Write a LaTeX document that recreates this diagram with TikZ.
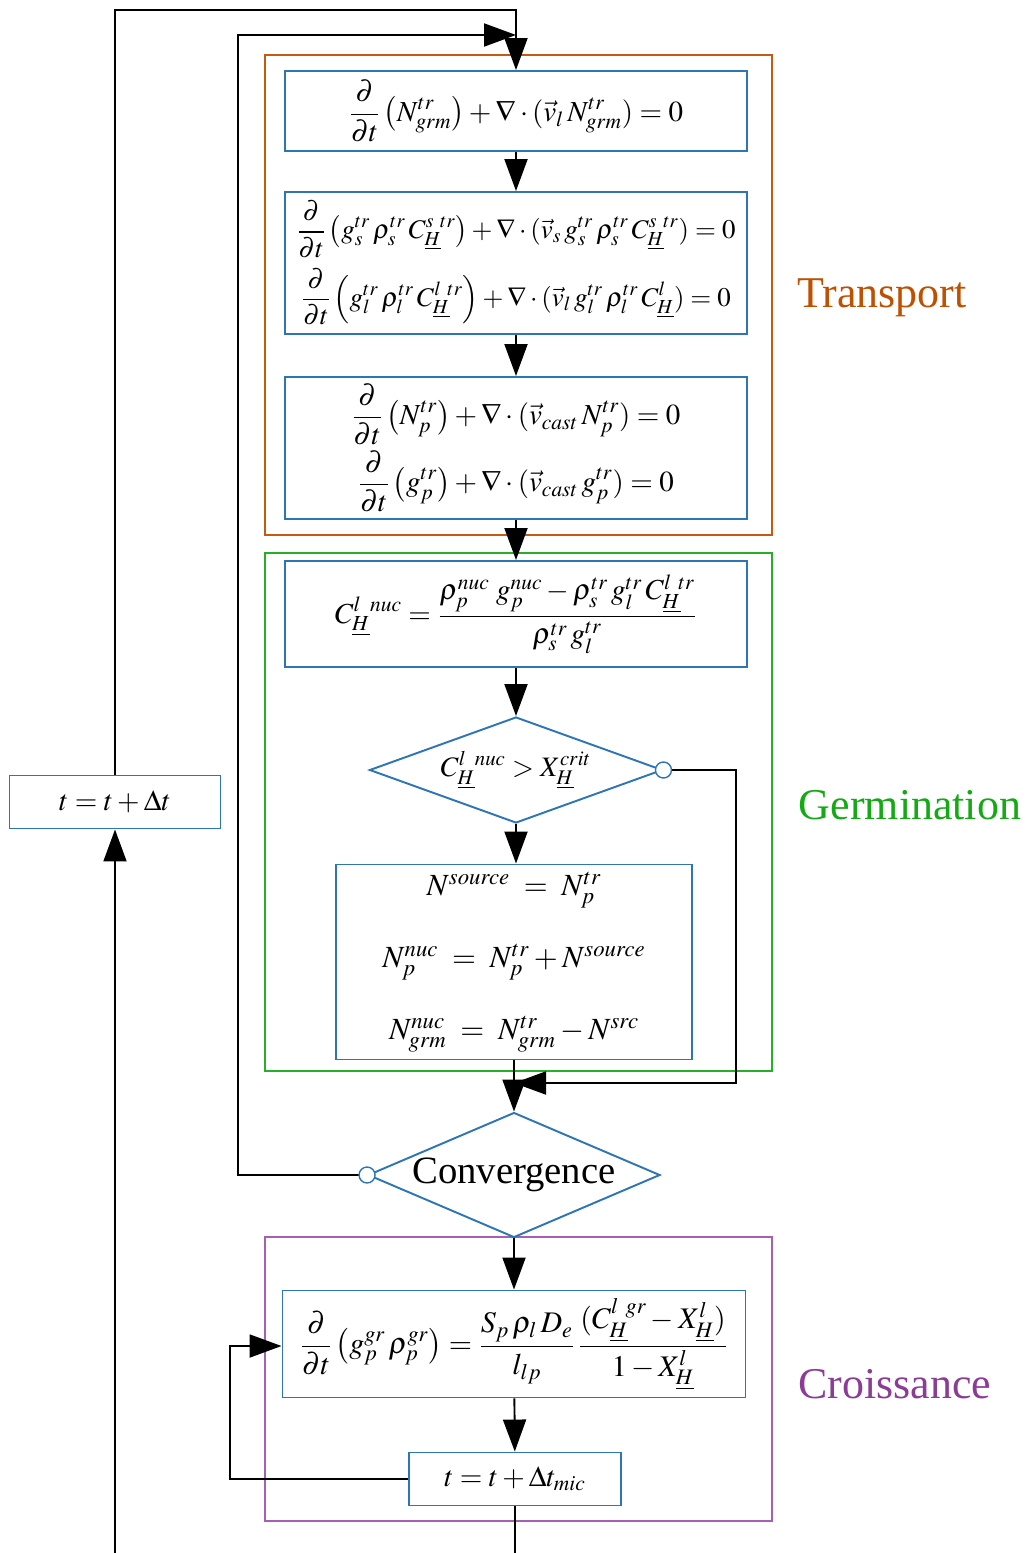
\documentclass[tikz,border=0pt]{standalone}
\usepackage{mathptmx}
\usepackage{fontspec}
\setmainfont{Liberation Serif}
\usetikzlibrary{arrows.meta, positioning, shapes.geometric, calc}
\definecolor{BL}{RGB}{46,117,182}
\definecolor{OR}{RGB}{197,90,17}
\definecolor{GR}{RGB}{40,175,40}
\definecolor{PU}{RGB}{165,95,180}
\definecolor{TOR}{RGB}{192,80,0}
\definecolor{TGR}{RGB}{20,170,20}
\definecolor{TPU}{RGB}{140,60,150}

\begin{document}
\begin{tikzpicture}[
  eqbox/.style={draw=BL, line width=1.1pt, rectangle, inner sep=0pt,
                align=center, font=\fontsize{16.5}{20}\selectfont},
  test/.style={draw=BL, line width=1.1pt, diamond, inner sep=0pt,
               font=\fontsize{16}{19}\selectfont},
  frame/.style={line width=0.9pt},
  phase/.style={font=\fontsize{25}{30}\selectfont},
  dot/.style={circle, draw=BL, fill=white, line width=0.8pt,
              minimum size=0.32cm, inner sep=0pt},
  flow/.style={draw=black, line width=1.1pt, -{Triangle[length=0.64cm,width=0.46cm]}},
  wire/.style={draw=black, line width=1.1pt}
]
\useasboundingbox (0,0) rectangle (20.58,-31.06);

% phase frames
\draw[frame, draw=OR] (5.30,-1.10) rectangle (15.44,-10.70);
\draw[frame, draw=GR] (5.30,-11.06) rectangle (15.44,-21.42);
\draw[frame, draw=PU] (5.30,-24.74) rectangle (15.44,-30.42);

\node[phase, text=TOR] (lTr) at (17.64,-5.96)  {Transport};
\node[phase, text=TGR] (lGe) at (18.20,-16.10) {Germination};
\node[phase, text=TPU] (lCr) at (17.90,-27.68) {Croissance};

% transport
\node[eqbox, minimum width=9.24cm, minimum height=1.60cm] (grm) at (10.32,-2.22)
  {$\displaystyle \frac{\partial}{\partial t}\left(N^{tr}_{grm}\right)+\nabla\cdot(\vec{v}_l\, N^{tr}_{grm})=0$};
\node[eqbox, font=\fontsize{15.3}{18}\selectfont, minimum width=9.24cm, minimum height=2.84cm] (solu) at (10.32,-5.26)
  {$\displaystyle \frac{\partial}{\partial t}\left(g^{tr}_s\,\rho^{tr}_s\, C^{s\;\,tr}_{\underline{H}}\right)+\nabla\cdot(\vec{v}_s\, g^{tr}_s\,\rho^{tr}_s\, C^{s\;\,tr}_{\underline{H}})=0$\\[5pt]
   $\displaystyle \frac{\partial}{\partial t}\left(g^{tr}_l\,\rho^{tr}_l\, C^{l\;\,tr}_{\underline{H}}\right)+\nabla\cdot(\vec{v}_l\, g^{tr}_l\,\rho^{tr}_l\, C^{l}_{\underline{H}})=0$};
\node[eqbox, minimum width=9.24cm, minimum height=2.84cm] (part) at (10.32,-8.96)
  {$\displaystyle \frac{\partial}{\partial t}\left(N^{tr}_p\right)+\nabla\cdot(\vec{v}_{cast}\, N^{tr}_p)=0$\\[2pt]
   $\displaystyle \frac{\partial}{\partial t}\left(g^{tr}_p\right)+\nabla\cdot(\vec{v}_{cast}\, g^{tr}_p)=0$};

% germination
\node[eqbox, minimum width=9.24cm, minimum height=2.12cm] (cnuc) at (10.32,-12.28)
  {$\displaystyle C^{l\;\;nuc}_{\underline{H}}=\frac{\rho^{nuc}_p\;g^{nuc}_p-\rho^{tr}_s\, g^{tr}_l\, C^{l\;\,tr}_{\underline{H}}}{\rho^{tr}_s\, g^{tr}_l}$};
\node[test, aspect=2.76, minimum width=5.86cm, minimum height=2.12cm] (crit) at (10.32,-15.40)
  {$C^{l\;\;nuc}_{\underline{H}} > X^{crit}_{\underline{H}}$};
\node[eqbox, font=\fontsize{17.5}{21}\selectfont, minimum width=7.12cm, minimum height=3.90cm] (src) at (10.28,-19.24)
  {$N^{source}\;=\;N^{tr}_p$\\[20pt]
   $N^{nuc}_p\;=\;N^{tr}_p+N^{source}$\\[20pt]
   $N^{nuc}_{grm}\;=\;N^{tr}_{grm}-N^{src}$};

\node[test, aspect=2.34, font=\fontsize{22}{26}\selectfont, minimum width=5.84cm, minimum height=2.50cm] (conv) at (10.28,-23.50) {Convergence};

% croissance
\node[eqbox, font=\fontsize{17}{21}\selectfont, minimum width=9.26cm, minimum height=2.14cm] (grow) at (10.28,-26.88)
  {$\displaystyle \frac{\partial}{\partial t}\left(g^{gr}_p\,\rho^{gr}_p\right)=\frac{S_p\,\rho_l\, D_e}{l_{lp}}\,\frac{(C^{l\;\,gr}_{\underline{H}}-X^{l}_{\underline{H}})}{1-X^{l}_{\underline{H}}}$};
\node[eqbox, minimum width=4.24cm, minimum height=1.06cm] (tmic) at (10.30,-29.58)
  {$t=t+\Delta t_{mic}$};

\node[eqbox, minimum width=4.22cm, minimum height=1.06cm] (tmac) at (2.30,-16.04)
  {$t=t+\Delta t$};

\coordinate (topA) at (2.30,-0.20);
\coordinate (topB) at (4.76,-0.70);
\coordinate (join) at (10.28,-21.66);
\coordinate (botL) at (2.30,-31.06);
\coordinate (botR) at (10.30,-31.06);

% main chain
\draw[flow] (grm) -- (solu);
\draw[flow] (solu) -- (part);
\draw[flow] (part) -- (cnuc);
\draw[flow] (cnuc) -- (crit);
\draw[flow] (crit.south) -- (crit.south |- src.north);
\draw[wire] (src.south) -- (join);
\draw[flow] (join) -- (conv.north);
\draw[flow] (conv.south) -- (grow.north);
\draw[flow] (grow) -- (tmic);

% loops
\draw[flow] (crit.east) -| (14.72,-21.66) -- (join);
\draw[flow] (conv.west) -| (topB) -- (topB -| grm.north);
\draw[flow] (tmac.north) -- (topA) -| (grm.north);
\draw[flow] (botL) -- (tmac.south);
\draw[flow] (tmic.west) -| (4.60,-26.92) -- (4.60,-26.92 -| grow.west);
\draw[wire] (tmic.south) -- (botR);
\node[dot] (yes) at (crit.east) {};
\node[dot] (no) at (conv.west) {};
\end{tikzpicture}
\end{document}
